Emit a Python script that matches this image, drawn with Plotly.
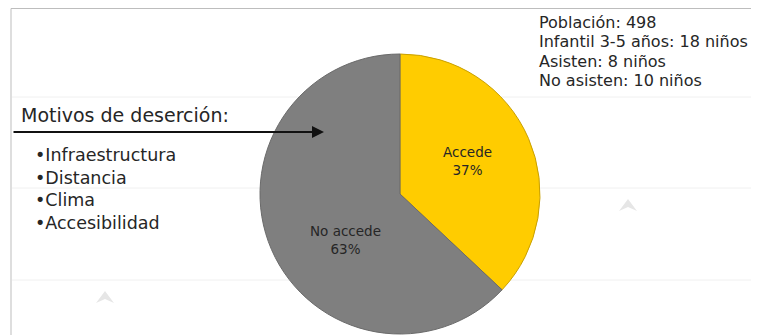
import plotly.graph_objects as go

# Data
labels = ["Accede", "No accede"]
values = [37, 63]
colors = ["#FFCC00", "#7F7F7F"]

info_lines = ["Población: 498", "Infantil 3-5 años: 18 niños", "Asisten: 8 niños", "No asisten: 10 niños"]
motivos_title = "Motivos de deserción:"
motivos = ["Infraestructura", "Distancia", "Clima", "Accesibilidad"]

# The page body has an 8px margin; lay out in screen pixels and compensate.
OFF = 8
W, H = 759 - OFF, 335 - OFF

def px(x):
    return min(1, max(0, (x - OFF) / W))

def py(y):
    return min(1, max(0, 1 - (y - OFF) / H))

cx, cy, r = 400, 194, 140
FONT = "DejaVu Sans, Liberation Sans, Arial, sans-serif"

fig = go.Figure(go.Pie(
    labels=labels, values=values, sort=False, direction="clockwise", rotation=0,
    marker=dict(colors=colors, line=dict(color=["#C9A000", "#6A6A6A"], width=1)),
    textinfo="none",
    domain=dict(x=[px(cx - r), px(cx + r)], y=[py(cy + r), py(cy - r)]),
    showlegend=False, hoverinfo="label+percent",
))

shapes = []
# slide frame lines
shapes.append(dict(type="line", xref="paper", yref="paper", x0=px(11), x1=1, y0=py(8.5), y1=py(8.5),
                   line=dict(color="#BDBDBD", width=1)))
shapes.append(dict(type="line", xref="paper", yref="paper", x0=px(11), x1=px(11), y0=py(8.5), y1=0,
                   line=dict(color="#BDBDBD", width=1)))
# faint background lines
for yy in [97, 188, 280]:
    shapes.append(dict(type="line", xref="paper", yref="paper", x0=px(12), x1=1, y0=py(yy), y1=py(yy),
                       line=dict(color="#F0F0F0", width=1), layer="below"))
# faint chevrons
for (tx, ty) in [(105, 297), (628, 205)]:
    shapes.append(dict(type="path", xref="paper", yref="paper",
                       path=f"M {px(tx-9)},{py(ty+6)} L {px(tx)},{py(ty-6)} L {px(tx+9)},{py(ty+6)} L {px(tx)},{py(ty+2)} Z",
                       fillcolor="#E6E6E6", line=dict(width=0), layer="below"))

annotations = []
# slice labels
total = sum(values)
label_pos = [(467, 161), (345, 240)]
for lab, v, (lx, ly) in zip(labels, values, label_pos):
    annotations.append(dict(xref="paper", yref="paper", x=px(lx), y=py(ly), xanchor="center",
                            yanchor="middle", text=f"{lab}<br>{round(v / total * 100)}%", showarrow=False,
                            font=dict(family=FONT, size=13.5, color="#262626")))

annotations.append(dict(xref="paper", yref="paper", x=px(19), y=py(115), xanchor="left", yanchor="middle",
                        text=motivos_title, showarrow=False,
                        font=dict(family=FONT, size=19, color="#262626")))
for i, m in enumerate(motivos):
    annotations.append(dict(xref="paper", yref="paper", x=px(33), y=py(155 + i * 22.7), xanchor="left",
                            yanchor="middle", text="•" + m, showarrow=False,
                            font=dict(family=FONT, size=17.5, color="#262626")))
for i, t in enumerate(info_lines):
    annotations.append(dict(xref="paper", yref="paper", x=px(537), y=py(22 + i * 19.5), xanchor="left",
                            yanchor="middle", text=t, showarrow=False,
                            font=dict(family=FONT, size=16, color="#262626")))
# arrow
annotations.append(dict(xref="paper", yref="paper", x=px(324), y=py(132), ax=-312, ay=0,
                        axref="pixel", ayref="pixel", text="", showarrow=True,
                        arrowhead=2, arrowsize=1.2, arrowwidth=2, arrowcolor="#111111"))

fig.update_layout(
    width=W, height=H, margin=dict(l=0, r=0, t=0, b=0),
    paper_bgcolor="white", plot_bgcolor="white",
    shapes=shapes, annotations=annotations,
)

fig.write_html("out.html")
